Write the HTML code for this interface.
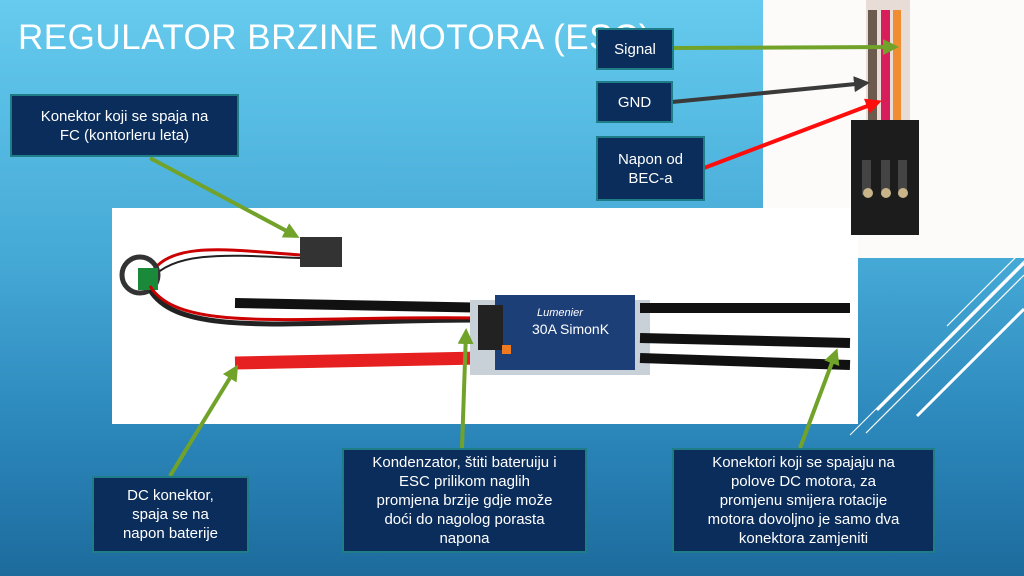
<!DOCTYPE html>
<html><head><meta charset="utf-8"><style>
body{margin:0;width:1024px;height:576px;overflow:hidden;position:relative;font-family:"Liberation Sans",sans-serif;background:linear-gradient(180deg,#66cbee 0%,#45a9d6 45%,#2b86ba 75%,#1d6b9d 100%);}
.box{position:absolute;background:#0b2d5b;border:2px solid #1e7d86;color:#fff;font-size:15px;line-height:19px;text-align:center;display:flex;align-items:center;justify-content:center;box-sizing:border-box;}
.photo{position:absolute;background:#fff;}
</style></head><body>
<div style="position:absolute;left:18px;top:18px;color:#fff;font-size:35px;letter-spacing:0.5px;">REGULATOR BRZINE MOTORA (ESC)</div>
<div class="photo" style="left:763px;top:0;width:261px;height:258px;background:#fcfbfa"></div>
<div class="photo" style="left:112px;top:208px;width:746px;height:216px"></div>
<svg width="1024" height="576" style="position:absolute;left:0;top:0">
<!-- top connector photo -->
<rect x="866" y="0" width="44" height="125" fill="#e8dcd6"/>
<rect x="868" y="10" width="9" height="115" fill="#6b5a4e"/>
<rect x="881" y="10" width="9" height="115" fill="#d81e5a"/>
<rect x="893" y="10" width="8" height="115" fill="#f08d30"/>
<rect x="851" y="120" width="68" height="115" fill="#1c1c1c"/>
<rect x="862" y="160" width="9" height="35" fill="#444"/><rect x="881" y="160" width="9" height="35" fill="#444"/><rect x="898" y="160" width="9" height="35" fill="#444"/>
<circle cx="868" cy="193" r="5" fill="#c9b48a"/><circle cx="886" cy="193" r="5" fill="#c9b48a"/><circle cx="903" cy="193" r="5" fill="#c9b48a"/>
<!-- ESC photo -->
<path d="M150 275 C170 240 230 250 300 255" stroke="#c00" stroke-width="3" fill="none"/>
<path d="M150 280 C175 250 230 255 300 258" stroke="#222" stroke-width="2" fill="none"/>
<circle cx="140" cy="275" r="18" fill="none" stroke="#333" stroke-width="5"/>
<rect x="138" y="268" width="20" height="22" fill="#1a8a3a"/>
<rect x="300" y="237" width="42" height="30" fill="#333"/>
<path d="M150 290 C180 340 300 320 480 320" stroke="#222" stroke-width="5" fill="none"/>
<path d="M150 286 C180 335 300 315 480 318" stroke="#c00" stroke-width="3" fill="none"/>
<line x1="235" y1="303" x2="500" y2="308" stroke="#111" stroke-width="10"/>
<line x1="235" y1="363" x2="480" y2="358" stroke="#e62020" stroke-width="13"/>
<rect x="470" y="300" width="180" height="75" fill="#c8d0d8"/>
<rect x="395" y="" width="0" height="0"/>
<rect x="396" y="" width="0" height="0"/>
<rect x="495" y="295" width="140" height="75" fill="#1d3f77"/>
<rect x="478" y="305" width="25" height="45" fill="#222"/>
<text x="537" y="316" fill="#fff" font-size="11" font-style="italic">Lumenier</text>
<text x="532" y="334" fill="#fff" font-size="14">30A SimonK</text>
<rect x="502" y="345" width="9" height="9" fill="#f07a20"/>
<line x1="640" y1="308" x2="850" y2="308" stroke="#111" stroke-width="10"/>
<line x1="640" y1="338" x2="850" y2="343" stroke="#111" stroke-width="10"/>
<line x1="640" y1="358" x2="850" y2="365" stroke="#111" stroke-width="10"/>
<!-- decorative lines -->
<g stroke="#fff" fill="none">
<line x1="877" y1="410" x2="1024" y2="263" stroke-width="3"/>
<line x1="866" y1="433" x2="1024" y2="275" stroke-width="1.2"/>
<line x1="850" y1="435" x2="1024" y2="261" stroke-width="1"/>
<line x1="917" y1="416" x2="1024" y2="309" stroke-width="3"/>
<line x1="947" y1="326" x2="1016" y2="257" stroke-width="1.2"/>
</g>
<defs>
<marker id="g" markerWidth="4" markerHeight="4" refX="3" refY="2" orient="auto"><path d="M0 0L4 2L0 4z" fill="#71a32a"/></marker>
<marker id="k" markerWidth="4" markerHeight="4" refX="3" refY="2" orient="auto"><path d="M0 0L4 2L0 4z" fill="#3a3a3a"/></marker>
<marker id="r" markerWidth="4" markerHeight="4" refX="3" refY="2" orient="auto"><path d="M0 0L4 2L0 4z" fill="#ff0d0d"/></marker>
</defs>
<g stroke-width="4">
<line x1="673" y1="48" x2="895" y2="47" stroke="#71a32a" marker-end="url(#g)"/>
<line x1="672" y1="102" x2="866" y2="83" stroke="#3a3a3a" marker-end="url(#k)"/>
<line x1="704" y1="168" x2="878" y2="102" stroke="#ff0d0d" marker-end="url(#r)"/>
<line x1="150" y1="158" x2="296" y2="236" stroke="#71a32a" marker-end="url(#g)"/>
<line x1="170" y1="476" x2="236" y2="368" stroke="#71a32a" marker-end="url(#g)"/>
<line x1="462" y1="448" x2="466" y2="332" stroke="#71a32a" marker-end="url(#g)"/>
<line x1="800" y1="448" x2="836" y2="352" stroke="#71a32a" marker-end="url(#g)"/>
</g>
</svg>
<div class="box" style="left:596px;top:28px;width:78px;height:42px">Signal</div>
<div class="box" style="left:596px;top:81px;width:77px;height:42px">GND</div>
<div class="box" style="left:596px;top:136px;width:109px;height:65px">Napon od<br>BEC-a</div>
<div class="box" style="left:10px;top:94px;width:229px;height:63px">Konektor koji se spaja na<br>FC (kontorleru leta)</div>
<div class="box" style="left:92px;top:476px;width:157px;height:77px">DC konektor,<br>spaja se na<br>napon baterije</div>
<div class="box" style="left:342px;top:448px;width:245px;height:105px">Kondenzator, štiti bateruiju i<br>ESC prilikom naglih<br>promjena brzije gdje može<br>doći do nagolog porasta<br>napona</div>
<div class="box" style="left:672px;top:448px;width:263px;height:105px">Konektori koji se spajaju na<br>polove DC motora, za<br>promjenu smijera rotacije<br>motora dovoljno je samo dva<br>konektora zamjeniti</div>
</body></html>
